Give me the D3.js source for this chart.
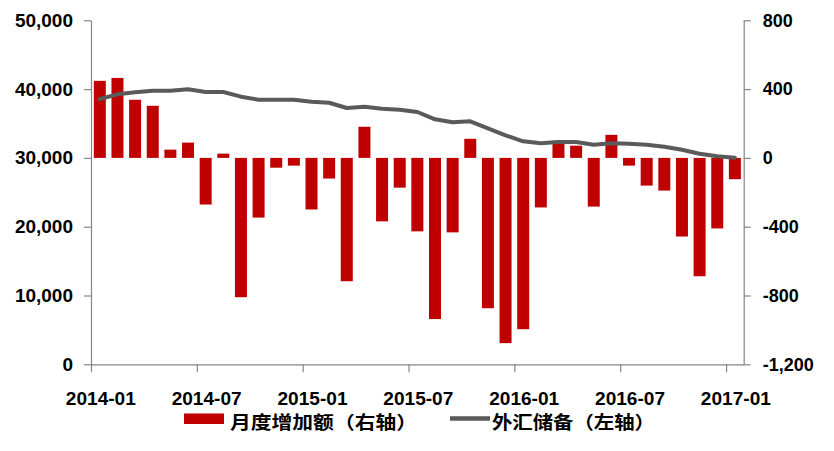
<!DOCTYPE html>
<html><head><meta charset="utf-8">
<script src="https://cdn.jsdelivr.net/npm/d3@7"></script>
<style>
body{margin:0;background:#fff;}
svg{display:block;}
</style></head>
<body>
<svg id="chart" width="834" height="451"></svg>
<script>
const months = ["2014-01","2014-02","2014-03","2014-04","2014-05","2014-06","2014-07","2014-08","2014-09","2014-10","2014-11","2014-12",
"2015-01","2015-02","2015-03","2015-04","2015-05","2015-06","2015-07","2015-08","2015-09","2015-10","2015-11","2015-12",
"2016-01","2016-02","2016-03","2016-04","2016-05","2016-06","2016-07","2016-08","2016-09","2016-10","2016-11","2016-12","2017-01"];
const monthlyChange = [448,465,338,303,48,89,-271,25,-810,-347,-57,-45,-300,-120,-717,181,-369,-173,-427,-937,-433,111,-874,-1077,-996,-288,100,71,-283,134,-45,-161,-190,-457,-688,-410,-124];
const reserves = [38560,39240,39530,39770,39770,39970,39580,39580,38900,38460,38460,38460,38170,38020,37250,37440,37150,37010,36670,35610,35170,35320,34300,33280,32410,32120,32310,32310,31920,32120,32050,31920,31630,31190,30610,30230,30030];
const xTickLabels = ["2014-01","2014-07","2015-01","2015-07","2016-01","2016-07","2017-01"];
const leftTicks = [0,10000,20000,30000,40000,50000];
const rightTicks = [-1200,-800,-400,0,400,800];
const legendLabels = ["月度增加额（右轴）","外汇储备（左轴）"];

const barColor = "#c00000", lineColor = "#5a5a5a", axisColor = "#868686";
const L = 91, R = 743.7, T = 20.3, B = 364.3;
const svg = d3.select("#chart");

const x = d3.scaleBand().domain(months).range([L, R]).paddingInner(0.32).paddingOuter(0.16);
const xi = d3.scaleLinear().domain([0, months.length]).range([L, R]);
const yL = d3.scaleLinear().domain([0, 50000]).range([B, T]);
const yR = d3.scaleLinear().domain([-1200, 800]).range([B, T]);
const fmt = d => d3.format(",")(d).replace("\u2212", "-");

// bars
svg.append("g").selectAll("rect").data(monthlyChange).join("rect")
  .attr("x", (d,i) => x(months[i]))
  .attr("width", x.bandwidth())
  .attr("y", d => Math.min(yR(d), yR(0)))
  .attr("height", d => Math.abs(yR(d) - yR(0)))
  .attr("fill", barColor);

// line
const line = d3.line().x((d,i) => x(months[i]) + x.bandwidth()/2).y(d => yL(d));
svg.append("path").datum(reserves).attr("d", line)
  .attr("fill","none").attr("stroke", lineColor).attr("stroke-width", 4)
  .attr("stroke-linejoin","round").attr("stroke-linecap","round");

const tickFont = "'Liberation Sans', Arial, sans-serif";
function styleAxis(g){
  g.select(".domain").attr("stroke", axisColor).attr("stroke-width",1.2);
  g.selectAll(".tick line").attr("stroke", axisColor).attr("stroke-width",1.2);
  g.selectAll(".tick text").attr("fill","#000").attr("font-family",tickFont)
    .attr("font-weight","bold").attr("font-size","19px");
}

// left axis
svg.append("g").attr("transform",`translate(${L},0)`)
  .call(d3.axisLeft(yL).tickValues(leftTicks).tickFormat(fmt).tickSize(7).tickSizeOuter(0).tickPadding(11))
  .call(styleAxis);

// right axis
svg.append("g").attr("transform",`translate(${R},0)`)
  .call(d3.axisRight(yR).tickValues(rightTicks).tickFormat(fmt).tickSize(7).tickSizeOuter(0).tickPadding(12))
  .call(styleAxis)
  .selectAll(".tick text").attr("font-size","18px");

// bottom axis (ticks at month boundaries)
svg.append("g").attr("transform",`translate(0,${B})`)
  .call(d3.axisBottom(xi).tickValues(d3.range(0, months.length + 1, 6)).tickFormat("").tickSize(8).tickSizeOuter(0))
  .call(styleAxis);

svg.append("g").selectAll("text").data(xTickLabels).join("text")
  .attr("x", d => x(d) + x.bandwidth()/2 + 1)
  .attr("y", 398.5)
  .attr("text-anchor","middle").attr("dominant-baseline","central")
  .attr("font-family",tickFont).attr("font-weight","bold").attr("font-size","18px")
  .attr("textLength",70).attr("lengthAdjust","spacingAndGlyphs")
  .text(d => d);

// legend
const cjk = "'Noto Sans CJK SC', sans-serif";
const lg = svg.append("g");
lg.append("rect").attr("x",184).attr("y",413.5).attr("width",40).attr("height",10.5).attr("fill",barColor);
lg.append("text").attr("x",230).attr("y",420.5).attr("dominant-baseline","central")
  .attr("font-family",cjk).attr("font-weight","bold").attr("font-size","18px")
  .attr("textLength",187).attr("lengthAdjust","spacingAndGlyphs").text(legendLabels[0]);
lg.append("line").attr("x1",450).attr("x2",490).attr("y1",418.5).attr("y2",418.5)
  .attr("stroke",lineColor).attr("stroke-width",4.5);
lg.append("text").attr("x",492).attr("y",420.5).attr("dominant-baseline","central")
  .attr("font-family",cjk).attr("font-weight","bold").attr("font-size","18px")
  .attr("textLength",163).attr("lengthAdjust","spacingAndGlyphs").text(legendLabels[1]);
</script>
</body></html>
